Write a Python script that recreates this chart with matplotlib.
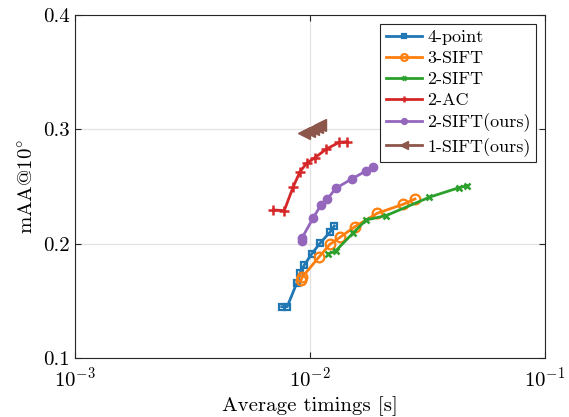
import numpy as np
import matplotlib
matplotlib.use("Agg")
import matplotlib.pyplot as plt
from matplotlib.ticker import NullLocator

plt.rcParams['font.family'] = ['cmr10', 'DejaVu Serif']
plt.rcParams['mathtext.fontset'] = 'cm'
plt.rcParams['axes.formatter.use_mathtext'] = True

# timings [s] and mAA@10 for each solver
pt4_t = [0.00758, 0.00800, 0.00878, 0.00907, 0.00946, 0.01017, 0.01103, 0.01216, 0.01269]
pt4_a = [0.1449, 0.1449, 0.1654, 0.1741, 0.1814, 0.1910, 0.2004, 0.2100, 0.2155]

sift3_t = [0.00915, 0.00925, 0.01095, 0.01216, 0.01342, 0.01554, 0.01934, 0.02495, 0.02798]
sift3_a = [0.1680, 0.1705, 0.1886, 0.1995, 0.2056, 0.2149, 0.2266, 0.2345, 0.2391]

sift2_t = [0.01197, 0.01290, 0.01529, 0.01731, 0.02106, 0.03219, 0.04306, 0.04670]
sift2_a = [0.1910, 0.1939, 0.2096, 0.2207, 0.2245, 0.2406, 0.2490, 0.2507]

ac2_t = [0.00698, 0.00777, 0.00849, 0.00907, 0.00968, 0.01050, 0.01170, 0.01333, 0.01441]
ac2_a = [0.2295, 0.2289, 0.2499, 0.2630, 0.2703, 0.2752, 0.2826, 0.2887, 0.2892]

ours2_t = [0.00922, 0.00925, 0.01033, 0.01114, 0.01185, 0.01290, 0.01505, 0.01731, 0.01859]
ours2_a = [0.2024, 0.2050, 0.2227, 0.2339, 0.2391, 0.2485, 0.2566, 0.2636, 0.2668]

ours1_t = [0.00943, 0.00990, 0.01030, 0.01071, 0.01103]
ours1_a = [0.2969, 0.2986, 0.3003, 0.3021, 0.3039]

fig = plt.figure(figsize=(5.69, 4.17), dpi=100)
ax = fig.add_axes([0.1318, 0.1415, 0.826, 0.8225])

ax.plot(pt4_t, pt4_a, '-s', color='#1f77b4', lw=2, ms=5, mfc='none', mew=1.6, label='4-point')
ax.plot(sift3_t, sift3_a, '-o', color='#ff7f0e', lw=2, ms=7, mfc='none', mew=1.6, label='3-SIFT')
ax.plot(sift2_t, sift2_a, '-x', color='#2ca02c', lw=2, ms=4, mew=1.8, label='2-SIFT')
ax.plot(ac2_t, ac2_a, '-+', color='#d62728', lw=2, ms=7, mew=1.8, label='2-AC')
ax.plot(ours2_t, ours2_a, '-o', color='#9467bd', lw=2, ms=6, label='2-SIFT(ours)')
ax.plot(ours1_t, ours1_a, '-<', color='#8c564b', lw=2, ms=9, label='1-SIFT(ours)')

ax.set_xscale('log')
ax.set_xlim(1e-3, 1e-1)
ax.set_ylim(0.1, 0.4)
ax.set_xticks([1e-3, 1e-2, 1e-1])
ax.xaxis.set_minor_locator(NullLocator())
ax.set_yticks([0.1, 0.2, 0.3, 0.4])
ax.set_yticklabels(['0.1', '0.2', '0.3', '0.4'])

ax.grid(True, color='#e3e3e3', lw=0.9)
ax.set_axisbelow(True)
for s in ax.spines.values():
    s.set_color('#262626')
    s.set_linewidth(0.8)
ax.tick_params(direction='in', length=4, width=0.8, top=True, right=True,
               labelsize=15, color='#262626')
ax.tick_params(axis='x', pad=6)

ax.set_xlabel('Average timings [s]', fontsize=15)
ax.set_ylabel(r'mAA@$10^{\circ}$', fontsize=15)

leg = ax.legend(loc='upper right', fontsize=13, fancybox=False, framealpha=1,
                edgecolor='#262626', handlelength=2.0, labelspacing=0.3,
                borderpad=0.3, handletextpad=0.3, borderaxespad=0.5,
                markerscale=0.7)
leg.get_frame().set_linewidth(0.8)

fig.savefig('out.png', dpi=100)
